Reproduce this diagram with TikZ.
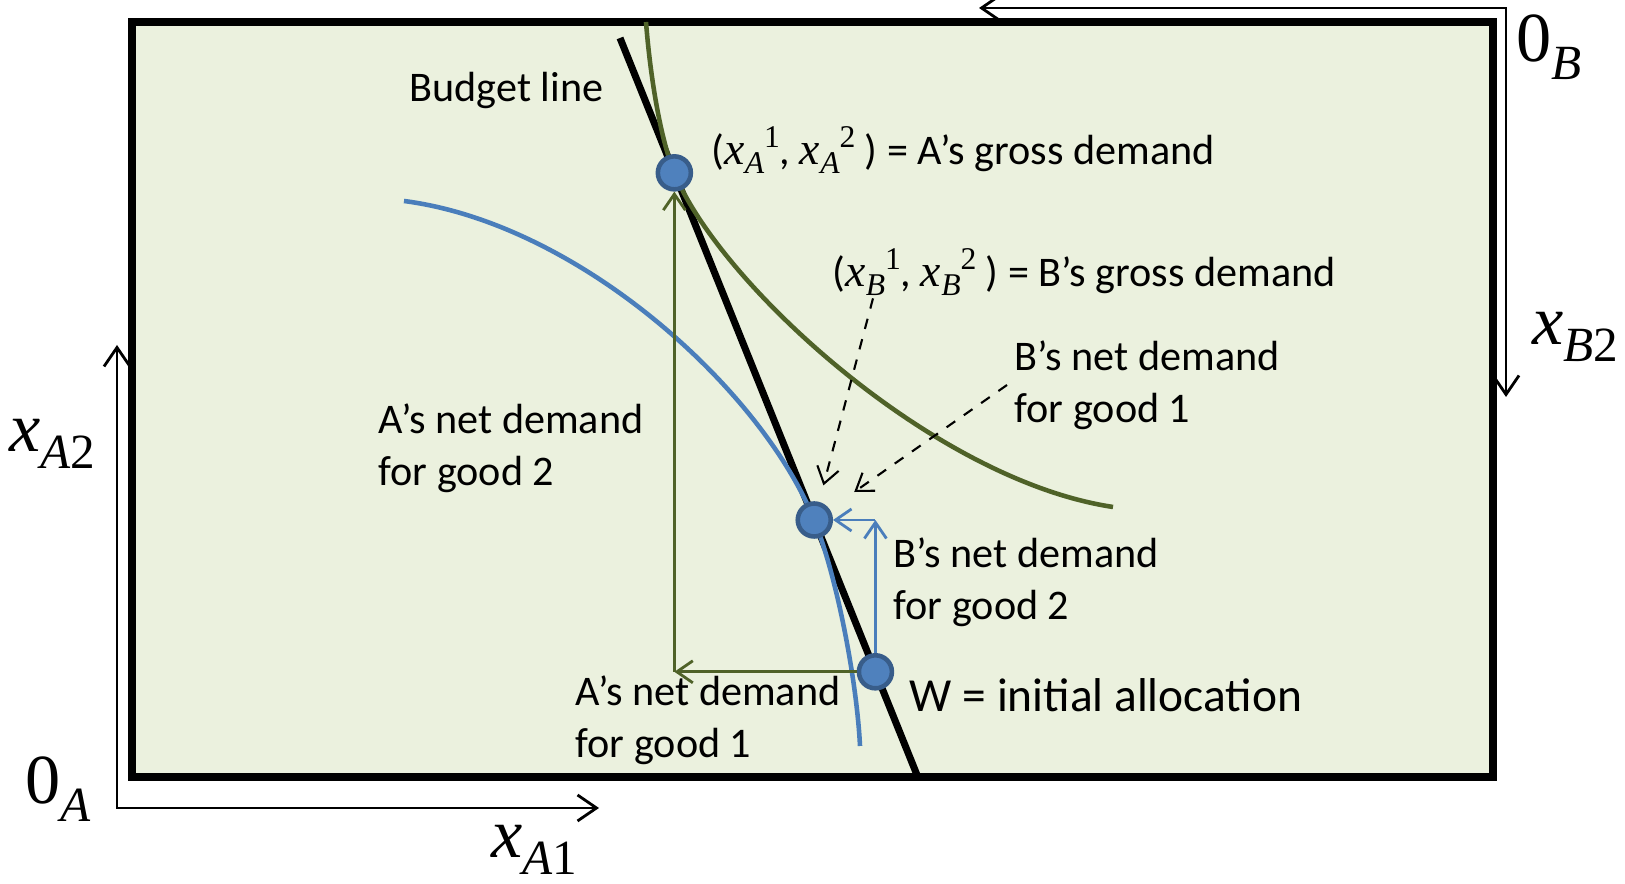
\documentclass[tikz,border=0pt]{standalone}
\usepackage{fontspec}
\setmainfont{Carlito}
\newfontfamily\tms{Liberation Serif}
\usetikzlibrary{arrows.meta,calc}

\definecolor{boxfill}{HTML}{EBF1DE}
\definecolor{olivegr}{HTML}{4F6228}
\definecolor{curveblue}{HTML}{4A7EBB}
\definecolor{dotfill}{HTML}{4F81BD}
\definecolor{dotedge}{HTML}{385D8A}

% axis labels: big Times letter with a subscript
\newcommand{\axlab}[3]{{\fontsize{20}{24}\selectfont\tms #1}\raisebox{-5pt}{\fontsize{14}{16}\selectfont\tms\itshape #2\upshape #3}}
% demand bundle entries x_A^1 etc.
\newcommand{\dem}[2]{{\fontsize{13}{15}\selectfont\tms\itshape x}\raisebox{-2.5pt}{\fontsize{9}{10}\selectfont\tms\itshape #1}\raisebox{5pt}{\fontsize{9}{10}\selectfont\tms #2}}

\begin{document}
\begin{tikzpicture}
    % Styles
    \tikzstyle{lbl} = [anchor=west, align=left, inner sep=0pt, font=\fontsize{12}{14.7}\selectfont]
    \tikzstyle{dot} = [circle, fill=dotfill, draw=dotedge, line width=1.3pt, minimum size=3.3mm, inner sep=0pt]
    \tikzstyle{axis} = [{Straight Barb[length=1.9mm,width=2.6mm]}-{Straight Barb[length=1.9mm,width=2.6mm]}, line width=0.8pt]
    \tikzstyle{anet} = [-{Straight Barb[length=1.6mm,width=2.2mm]}, olivegr, line width=0.8pt]
    \tikzstyle{bnet} = [-{Straight Barb[length=1.6mm,width=2.2mm]}, curveblue, line width=0.8pt]
    \tikzstyle{hint} = [-{Straight Barb[length=1.6mm,width=2.2mm]}, dashed, line width=0.6pt]

    \useasboundingbox (0,0) rectangle (16.25,8.84);

    % Edgeworth box
    \draw[fill=boxfill, line width=2.2pt] (1.32,1.07) rectangle (14.93,8.62);

    % Origins and axes
    \coordinate (OA) at (1.17,0.76);
    \coordinate (OB) at (15.06,8.76);
    \draw[axis] (1.17,5.39) -- (OA) -- (5.99,0.76);
    \draw[axis] (9.79,8.76) -- (OB) -- (15.06,4.87);
    \node (oA) at (0.58,0.95) {\axlab{0}{A}{}};
    \node (xA2) at (0.52,4.40) {\axlab{\itshape x}{A}{2}};
    \node (xA1) at (5.34,0.34) {\axlab{\itshape x}{A}{1}};
    \node (oB) at (15.49,8.37) {\axlab{0}{B}{}};
    \node (xB2) at (15.75,5.47) {\axlab{\itshape x}{B}{2}};

    % Budget line
    \coordinate (bl1) at (6.20,8.46);
    \coordinate (bl2) at (9.17,1.09);
    \draw[line width=2pt] (bl1) -- (bl2);
    \coordinate (pA) at ($(bl1)!0.183!(bl2)$);
    \coordinate (pB) at ($(bl1)!0.654!(bl2)$);
    \coordinate (pW) at ($(bl1)!0.860!(bl2)$);

    % Indifference curves
    \draw[olivegr, line width=1.3pt] (6.46,8.62) .. controls (6.50,8.10) and (6.60,7.46) .. (pA)
        .. controls (7.19,6.01) and (9.33,4.04) .. (11.13,3.77);
    \draw[curveblue, line width=1.3pt] (4.04,6.83) .. controls (5.80,6.60) and (7.616,4.94) .. (pB)
        .. controls (8.38,3.04) and (8.57,2.00) .. (8.60,1.38);

    % Allocations
    \node[dot] (agross) at (pA) {};
    \node[dot] (bgross) at (pB) {};
    \node[dot] (W) at (pW) {};

    % Net demand arrows
    \coordinate (cA) at (agross |- W);
    \coordinate (cB) at (W |- bgross);
    \draw[anet] (W) -- (cA);
    \draw[anet] (cA) -- (agross);
    \draw[bnet] (W) -- (cB);
    \draw[bnet] (cB) -- (bgross);

    % Labels
    \node[lbl] (budget) at (4.09,7.93) {Budget line};
    \node[lbl] (agl) at (7.11,7.34) {(\dem{A}{1}, \dem{A}{2} ) = A’s gross demand};
    \node[lbl] (bgl) at (8.32,6.12) {(\dem{B}{1}, \dem{B}{2} ) = B’s gross demand};
    \node[lbl] (bn1) at (10.14,4.99) {B’s net demand\\for good 1};
    \node[lbl] (an2) at (3.78,4.36) {A’s net demand\\for good 2};
    \node[lbl] (bn2) at (8.93,3.02) {B’s net demand\\for good 2};
    \node[lbl] (an1) at (5.75,1.64) {A’s net demand\\for good 1};
    \node[lbl, font=\fontsize{13.5}{16}\selectfont] (wl) at (9.09,1.89) {W = initial allocation};

    % Pointers to B's gross demand
    \coordinate (bgtail) at ($(bgl.south west)+(0.41,-0.02)$);
    \draw[hint, shorten >=0.17cm] (bgtail) -- (bgross);
    \draw[hint, shorten >=0.3cm] ([xshift=-0.07cm]bn1.west) -- (bgross);
\end{tikzpicture}
\end{document}
